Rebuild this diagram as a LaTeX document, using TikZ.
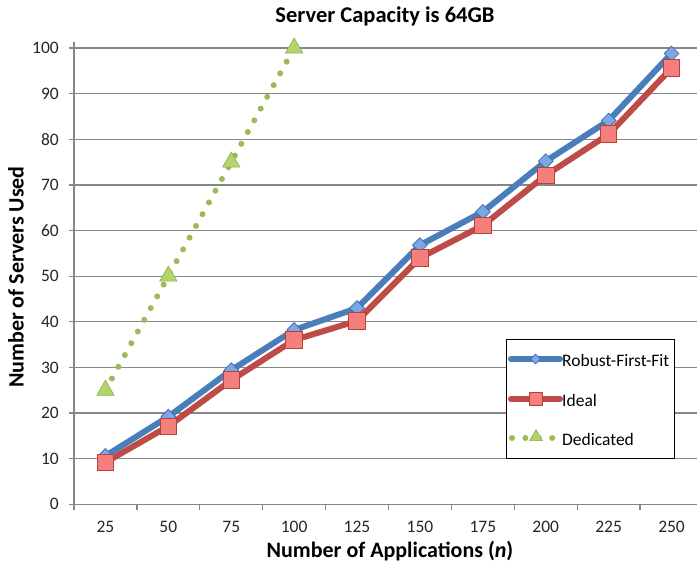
\documentclass[tikz,border=0pt]{standalone}
\usepackage{fontspec}
\setmainfont{Carlito}
\usetikzlibrary{shapes.geometric}
\definecolor{gridgray}{HTML}{878787}
\definecolor{rffblue}{HTML}{4A7EBB}
\definecolor{rffmark}{HTML}{7DA7E3}
\definecolor{rffedge}{HTML}{3E6FB0}
\definecolor{idealred}{HTML}{BE4B48}
\definecolor{idealmark}{HTML}{F47F7C}
\definecolor{idealedge}{HTML}{B7403D}
\definecolor{dedgreen}{HTML}{9BBB59}
\definecolor{dedmark}{HTML}{B2D46A}
\definecolor{dededge}{HTML}{8CAE47}
\tikzset{
  gridline/.style={draw=gridgray, line width=1.3pt},
  tickmark/.style={draw=gridgray, line width=1.3pt},
  ticklabel/.style={font=\fontsize{17.5}{17.5}\selectfont, text=black!85, inner sep=0pt},
  axistitle/.style={font=\bfseries\fontsize{22}{22}\selectfont, inner sep=0pt},
  charttitle/.style={font=\bfseries\fontsize{22.5}{22.5}\selectfont, inner sep=0pt},
  rffline/.style={draw=rffblue, line width=6pt, line join=round, line cap=round},
  idealline/.style={draw=idealred, line width=6pt, line join=round, line cap=round},
  dedline/.style={draw=dedgreen, line width=6pt, line cap=round, dash pattern=on 0pt off 13.4pt},
  rffmk/.style={diamond, fill=rffmark, draw=rffedge, line width=0.8pt, minimum width=15pt, minimum height=15pt, inner sep=0pt},
  idealmk/.style={rectangle, fill=idealmark, draw=idealedge, line width=1pt, minimum size=16.5pt, inner sep=0pt},
  dedmk/.style={isosceles triangle, isosceles triangle apex angle=60, shape border rotate=90, fill=dedmark, draw=dededge, line width=0.6pt, minimum size=15pt, inner sep=0pt},
  legendtext/.style={font=\fontsize{17.5}{17.5}\selectfont, anchor=west, inner sep=0pt},
}
\begin{document}
\begin{tikzpicture}[x=1pt, y=-1pt]
  \useasboundingbox (0,0) rectangle (697,570);
  \fill[white] (0,0) rectangle (697,570);

  % horizontal grid and y ticks
  \foreach \v in {10,20,...,100}
    \draw[gridline] (74,{504.3-4.563*\v}) -- (697,{504.3-4.563*\v});
  \foreach \v in {0,10,...,100} {
    \draw[tickmark] (68.5,{504.3-4.563*\v}) -- (74,{504.3-4.563*\v});
    \node[ticklabel, anchor=east] (yl\v) at (59,{504.3-4.563*\v}) {\v};
  }
  % axes
  \draw[gridline] (74,42) -- (74,504.3) -- (697,504.3);
  \foreach \k in {0,...,9}
    \draw[tickmark] ({74+62.9*\k},504.3) -- ({74+62.9*\k},510);
  \foreach \k/\n in {1/25,2/50,3/75,4/100,5/125,6/150,7/175,8/200,9/225,10/250}
    \node[ticklabel] (xl\k) at ({105.45+62.9*(\k-1)},527) {\n};

  % titles
  \node[charttitle] (title) at (385,16) {Server Capacity is 64GB};
  \node[axistitle] (xtitle) at (390,551) {Number of Applications (\textit{n})};
  \node[axistitle, rotate=90] (ytitle) at (16,277) {Number of Servers Used};

  % data points
  \foreach \k/\v in {1/10.6,2/19.2,3/29.4,4/38.2,5/43,6/56.8,7/64.1,8/75.2,9/84.1,10/98.8}
    \coordinate (b\k) at ({105.45+62.9*(\k-1)},{504.3-4.563*\v});
  \foreach \k/\v in {1/9.2,2/17.1,3/27.2,4/36,5/40.2,6/54,7/61.1,8/72.1,9/81.1,10/95.6}
    \coordinate (r\k) at ({105.45+62.9*(\k-1)},{504.3-4.563*\v});
  \foreach \k/\v in {1/25,2/50,3/75,4/100}
    \coordinate (g\k) at ({105.45+62.9*(\k-1)},{504.3-4.563*\v});

  % series lines
  \draw[dedline] (g1) -- (g2) -- (g3) -- (g4);
  \draw[rffline] (b1) \foreach \k in {2,...,10} { -- (b\k) };
  \draw[idealline] (r1) \foreach \k in {2,...,10} { -- (r\k) };

  % markers
  \foreach \k in {1,...,10} \node[rffmk] (bm\k) at (b\k) {};
  \foreach \k in {1,...,10} \node[idealmk] (rm\k) at (r\k) {};
  \foreach \k in {1,...,4} \node[dedmk] (gm\k) at (g\k) {};

  % legend
  \node[draw=black, line width=1.3pt, fill=white, minimum width=168pt, minimum height=119pt, inner sep=0pt, anchor=north west] (legend) at (506,339) {};
  \coordinate (la1) at (511,359); \coordinate (lb1) at (560,359);
  \coordinate (la2) at (511,399); \coordinate (lb2) at (560,399);
  \coordinate (la3) at (512,438); \coordinate (lb3) at (560,438);
  \draw[rffline] (la1) -- (lb1);
  \node[rffmk, minimum width=10pt, minimum height=10pt] (lm1) at (535.5,359) {};
  \node[legendtext] (lt1) at (562,360) {Robust-First-Fit};
  \draw[idealline] (la2) -- (lb2);
  \node[idealmk, minimum size=13pt] (lm2) at (535.5,399) {};
  \node[legendtext] (lt2) at (562,400) {Ideal};
  \draw[dedline] (la3) -- (lb3);
  \node[dedmk, minimum size=11pt] (lm3) at (536,437) {};
  \node[legendtext] (lt3) at (562,439) {Dedicated};
\end{tikzpicture}
\end{document}
